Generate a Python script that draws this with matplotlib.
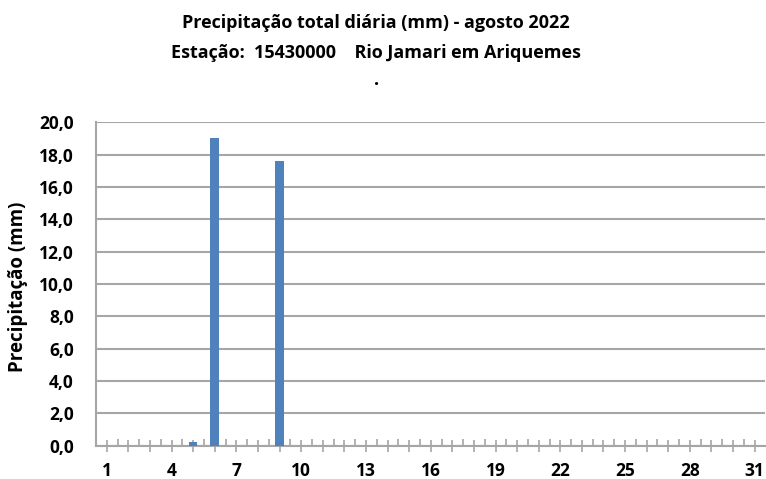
import matplotlib.pyplot as plt
import numpy as np

plt.rcParams['font.family'] = ['Open Sans', 'DejaVu Sans']

dias = list(range(1, 32))
chuva = [0.0, 0.0, 0.0, 0.0, 0.2, 19.0, 0.0, 0.0, 17.6, 0.0,
         0.0, 0.0, 0.0, 0.0, 0.0, 0.0, 0.0, 0.0, 0.0, 0.0,
         0.0, 0.0, 0.0, 0.0, 0.0, 0.0, 0.0, 0.0, 0.0, 0.0, 0.0]
rotulos_x = [1, 4, 7, 10, 13, 16, 19, 22, 25, 28, 31]
rotulos_y = np.arange(0, 21, 2)

fig = plt.figure(figsize=(7.66, 4.79), dpi=100)
ax = fig.add_axes([0.1253, 0.0695, 0.8740, 0.6752])

cinza = '#a6a6a6'
ax.bar(dias, chuva, width=0.4, color='#4f81bd', zorder=3)

ax.set_xlim(0.5, 31.5)
ax.set_ylim(0, 20)
ax.set_yticks(rotulos_y)
ax.set_yticklabels([f'{v:.1f}'.replace('.', ',') for v in rotulos_y],
                   fontsize=12.5, fontweight='bold')
ax.set_xticks(dias)
ax.set_xticklabels([str(d) if d in rotulos_x else '' for d in dias],
                   fontsize=12.5, fontweight='bold')
ax.set_xticks(np.arange(1.5, 31.5, 1), minor=True)
ax.tick_params(axis='x', which='major', direction='inout', length=8,
               color=cinza, width=1.2, pad=8)
ax.tick_params(axis='x', which='minor', direction='in', length=5,
               color=cinza, width=1.2)
ax.tick_params(axis='y', length=0, pad=16)

ax.grid(axis='y', color=cinza, linewidth=1.5, zorder=0)
for s in ['top', 'right']:
    ax.spines[s].set_visible(False)
for s in ['left', 'bottom']:
    ax.spines[s].set_color(cinza)
    ax.spines[s].set_linewidth(1.5)

ax.set_ylabel('Precipitação (mm)', fontsize=13.5, fontweight='bold')
ax.yaxis.set_label_coords(-(96 - 28) / 669.5, (445.7 - 287) / 323.4)

fig.text(0.491, 0.952, 'Precipitação total diária (mm) - agosto 2022',
         ha='center', va='center', fontsize=13, fontweight='bold')
fig.text(0.491, 0.889, 'Estação:  15430000    Rio Jamari em Ariquemes',
         ha='center', va='center', fontsize=13, fontweight='bold')
fig.text(0.492, 0.833, '.', ha='center', va='center', fontsize=13,
         fontweight='bold')

fig.savefig('out.png', dpi=100)
